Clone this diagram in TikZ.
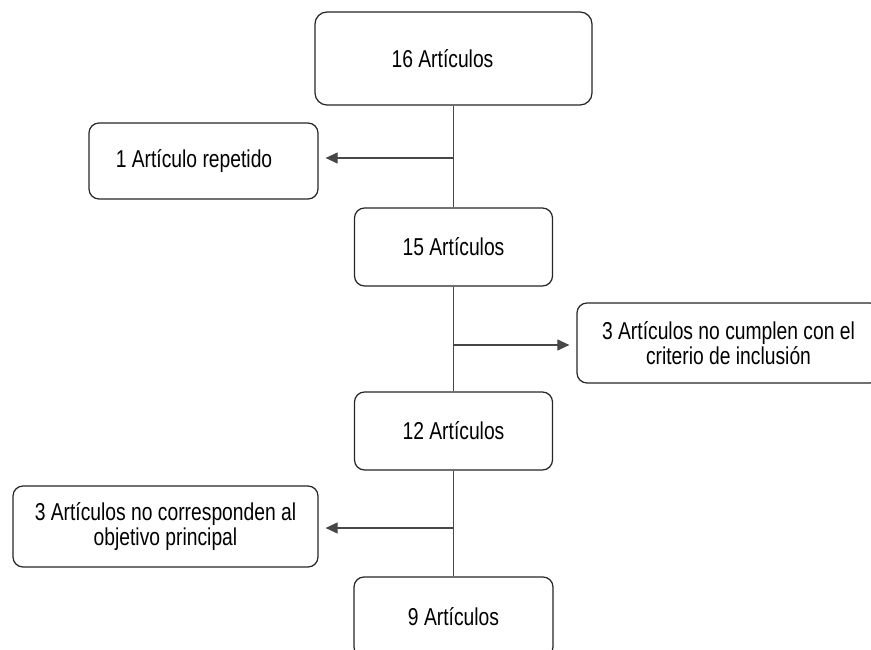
\documentclass[tikz,border=0pt]{standalone}
\usepackage{fontspec}
\setmainfont{Liberation Sans}[FakeStretch=0.79]
\usetikzlibrary{arrows.meta}
\begin{document}
\begin{tikzpicture}[x=1pt,y=-1pt,
  box/.style={draw=black!85, line width=1.25pt, rounded corners=10pt, fill=white, inner sep=0pt,
    font=\fontsize{24.4}{25}\selectfont},
  mbox/.style={box, align=center},
  link/.style={draw=black!72, line width=1.2pt},
  arr/.style={link, -{Triangle[length=12pt,width=11pt]}, shorten >=7pt}]
\useasboundingbox (0,0) rectangle (871,650);
\clip (0,0) rectangle (871,650);
\node[box, minimum width=277pt, minimum height=93pt, rounded corners=12pt] (b1) at (453.5,58.5) {16 Artículos\kern22pt};
\node[box, minimum width=229pt, minimum height=76pt] (b2) at (203.5,161) {1 Artículo repetido\kern19pt};
\node[box, minimum width=198pt, minimum height=78pt] (b3) at (453.5,247) {15 Artículos};
\node[mbox, minimum width=303pt, minimum height=80pt] (b4) at (728.5,343) {3 Artículos no cumplen con el\\criterio de inclusión};
\node[box, minimum width=198pt, minimum height=78pt] (b5) at (453.5,431) {12 Artículos};
\node[mbox, minimum width=305pt, minimum height=81pt] (b6) at (165.5,526.5) {3 Artículos no corresponden al\\objetivo principal};
\node[box, minimum width=199pt, minimum height=80pt] (b7) at (453.5,617) {9 Artículos};
\coordinate (j1) at (453.5,158);
\coordinate (j2) at (453.5,345);
\coordinate (j3) at (453.5,528);
\draw[link] (b1.south) -- (b3.north);
\draw[link] (b3.south) -- (b5.north);
\draw[link] (b5.south) -- (b7.north);
\draw[arr] (j1) -- (j1 -| b2.east);
\draw[arr] (j2) -- (j2 -| b4.west);
\draw[arr] (j3) -- (j3 -| b6.east);
\end{tikzpicture}
\end{document}
